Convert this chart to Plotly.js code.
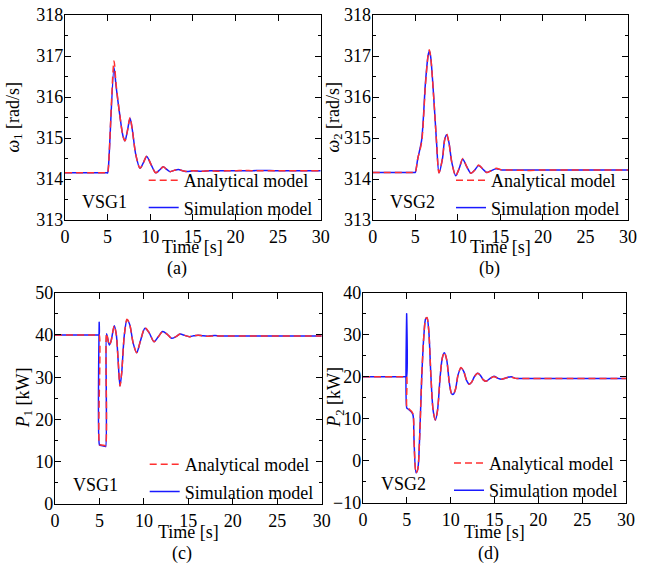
<!DOCTYPE html>
<html>
<head>
<meta charset="utf-8">
<script src="https://cdn.plot.ly/plotly-3.0.1.min.js"></script>
<style>html,body{margin:0;padding:0;background:#fff;}#chart{width:668px;height:570px;}</style>
</head>
<body>
<div id="chart"></div>
<script>
// ---- Panel (a): VSG1 angular frequency ----
const tA_ana = [0, 4.9, 5.0, 5.1, 5.75, 6.0, 6.4, 6.8, 7.04, 7.3, 7.63, 7.9, 8.3, 8.8, 9.2, 9.59, 10.1, 10.64, 11.1, 11.53, 11.9, 12.32, 12.8, 13.3, 13.8, 14.3, 15, 16, 17, 18, 19, 20, 21, 22, 23, 25, 30];
const wA_ana = [314.15, 314.15, 314.15, 314.3, 316.88, 316.3, 315.6, 315.05, 314.93, 315.15, 315.5, 315.2, 314.6, 314.26, 314.4, 314.56, 314.35, 314.15, 314.22, 314.3, 314.24, 314.18, 314.21, 314.24, 314.2, 314.18, 314.2, 314.19, 314.2, 314.19, 314.2, 314.2, 314.21, 314.2, 314.2, 314.2, 314.2];
const tA_sim = [0, 4.9, 5.0, 5.1, 5.75, 6.0, 6.4, 6.8, 7.04, 7.3, 7.63, 7.9, 8.3, 8.8, 9.2, 9.59, 10.1, 10.64, 11.1, 11.53, 11.9, 12.32, 12.8, 13.3, 13.8, 14.3, 15, 16, 17, 18, 19, 20, 21, 22, 23, 25, 30];
const wA_sim = [314.15, 314.15, 314.15, 314.3, 316.72, 316.25, 315.6, 315.05, 314.93, 315.15, 315.48, 315.2, 314.6, 314.26, 314.4, 314.55, 314.35, 314.15, 314.22, 314.3, 314.24, 314.18, 314.21, 314.23, 314.2, 314.18, 314.2, 314.19, 314.2, 314.2, 314.2, 314.2, 314.2, 314.2, 314.21, 314.2, 314.2];

// ---- Panel (b): VSG2 angular frequency ----
const tB_ana = [0, 4.9, 5.0, 5.3, 5.75, 6.2, 6.5, 6.65, 6.8, 7.2, 7.5, 7.79, 8.2, 8.45, 8.69, 8.95, 9.3, 9.75, 10.15, 10.58, 11.05, 11.55, 12.0, 12.45, 12.9, 13.4, 13.9, 14.5, 15.2, 16, 18, 20, 25, 30];
const wB_ana = [314.16, 314.16, 314.16, 314.5, 314.9, 316.3, 317.0, 317.15, 317.0, 315.9, 314.9, 314.15, 314.5, 314.95, 315.1, 314.9, 314.4, 314.08, 314.25, 314.5, 314.3, 314.14, 314.22, 314.34, 314.25, 314.16, 314.2, 314.26, 314.22, 314.22, 314.21, 314.22, 314.22, 314.22];
const tB_sim = [0, 4.9, 5.0, 5.3, 5.75, 6.2, 6.5, 6.65, 6.8, 7.2, 7.5, 7.79, 8.2, 8.45, 8.69, 8.95, 9.3, 9.75, 10.15, 10.58, 11.05, 11.55, 12.0, 12.45, 12.9, 13.4, 13.9, 14.5, 15.2, 16, 18, 20, 25, 30];
const wB_sim = [314.16, 314.16, 314.16, 314.5, 314.95, 316.35, 317.0, 317.12, 317.0, 315.9, 314.9, 314.15, 314.5, 314.95, 315.08, 314.9, 314.4, 314.08, 314.25, 314.48, 314.3, 314.14, 314.22, 314.33, 314.25, 314.16, 314.2, 314.25, 314.22, 314.22, 314.22, 314.22, 314.22, 314.22];

// ---- Panel (c): VSG1 active power ----
const tC_ana = [0, 4.9, 4.98, 5.0, 5.08, 5.62, 5.7, 5.8, 6.11, 6.3, 6.67, 6.9, 7.1, 7.31, 7.5, 7.8, 8.1, 8.4, 8.8, 9.19, 9.6, 10.12, 10.6, 11.14, 11.6, 12.11, 12.6, 13.12, 13.6, 14.06, 14.6, 15.1, 15.6, 16.1, 16.6, 17.2, 18, 18.5, 20, 30];
const pC_ana = [40, 40, 40, 14, 14, 13.82, 13.8, 40.3, 37.6, 38.5, 42.2, 40, 34, 27.9, 31, 40, 43.7, 42.5, 38, 35.8, 38.5, 41.7, 40.5, 38.4, 39.5, 40.8, 40.2, 39.2, 39.6, 40.2, 39.9, 39.6, 39.8, 39.95, 39.8, 39.7, 39.8, 39.75, 39.75, 39.75];
const tC_sim = [0, 4.88, 4.96, 4.97, 5.0, 5.08, 5.62, 5.7, 5.8, 6.11, 6.3, 6.67, 6.9, 7.1, 7.31, 7.5, 7.8, 8.1, 8.4, 8.8, 9.19, 9.6, 10.12, 10.6, 11.14, 11.6, 12.11, 12.6, 13.12, 13.6, 14.06, 14.6, 15.1, 15.6, 16.1, 16.6, 17.2, 18, 18.5, 20, 30];
const pC_sim = [40, 40, 40, 43, 14, 13.9, 13.65, 13.6, 40.3, 37.6, 38.5, 42.2, 40, 34, 27.9, 31, 40, 43.6, 42.5, 38, 35.8, 38.5, 41.6, 40.5, 38.4, 39.5, 40.8, 40.2, 39.2, 39.6, 40.2, 39.9, 39.6, 39.8, 39.95, 39.8, 39.7, 39.9, 39.75, 39.75, 39.75];

// ---- Panel (d): VSG2 active power ----
const tD_ana = [0, 4.9, 4.98, 5.0, 5.08, 5.67, 5.8, 6.05, 6.25, 6.45, 6.7, 6.95, 7.15, 7.3, 7.5, 7.75, 8.0, 8.25, 8.5, 8.8, 9.05, 9.28, 9.55, 9.85, 10.1, 10.3, 10.55, 10.85, 11.18, 11.5, 11.8, 12.13, 12.4, 12.7, 13.08, 13.4, 13.7, 14.03, 14.5, 14.94, 15.4, 15.8, 16.3, 16.9, 17.4, 18, 30];
const pD_ana = [20, 20, 20, 12.7, 12.6, 11.3, 6, -2.9, -2, 5, 20, 30, 33.8, 34.1, 31, 20, 12, 9.7, 12, 20, 24.5, 25.8, 24, 18.5, 16, 15.8, 17, 20.5, 22.2, 21.2, 19.2, 18.2, 18.7, 20, 20.8, 20.3, 19.3, 18.9, 19.6, 20.0, 19.6, 19.4, 19.7, 19.9, 19.6, 19.6, 19.6];
const tD_sim = [0, 4.89, 4.97, 4.98, 5.0, 5.08, 5.67, 5.8, 6.05, 6.25, 6.45, 6.7, 6.95, 7.15, 7.3, 7.5, 7.75, 8.0, 8.25, 8.5, 8.8, 9.05, 9.28, 9.55, 9.85, 10.1, 10.3, 10.55, 10.85, 11.18, 11.5, 11.8, 12.13, 12.4, 12.7, 13.08, 13.4, 13.7, 14.03, 14.5, 14.94, 15.4, 15.8, 16.3, 16.9, 17.4, 18, 30];
const pD_sim = [20, 20, 20, 35, 12.5, 12.4, 11.1, 6, -2.9, -2, 5, 20, 30, 33.8, 34.0, 31, 20, 12, 9.7, 12, 20, 24.5, 25.7, 24, 18.5, 16, 15.8, 17, 20.5, 22.1, 21.2, 19.2, 18.2, 18.7, 20, 20.8, 20.3, 19.3, 18.9, 19.6, 20.1, 19.6, 19.4, 19.7, 20.0, 19.6, 19.6, 19.6];

const xTicks = [0, 5, 10, 15, 20, 25, 30];
const seriesNames = ['Analytical model', 'Simulation model'];
const vsgLabels = ['VSG1', 'VSG2', 'VSG1', 'VSG2'];
const captions = ['(a)', '(b)', '(c)', '(d)'];
const xTitle = 'Time [s]';
const yTitles = ['<i>ω</i><sub>1</sub> [rad/s]', '<i>ω</i><sub>2</sub> [rad/s]', '<i>P</i><sub>1</sub> [kW]', '<i>P</i><sub>2</sub> [kW]'];

const FONT = '"Liberation Serif", "Times New Roman", serif';
const RED = '#ff3030';
const BLUE = '#1a1aff';

const panels = [
  {t1: tA_ana, v1: wA_ana, t2: tA_sim, v2: wA_sim, xa: 'x', ya: 'y', lg: 'legend'},
  {t1: tB_ana, v1: wB_ana, t2: tB_sim, v2: wB_sim, xa: 'x2', ya: 'y2', lg: 'legend2'},
  {t1: tC_ana, v1: pC_ana, t2: tC_sim, v2: pC_sim, xa: 'x3', ya: 'y3', lg: 'legend3'},
  {t1: tD_ana, v1: pD_ana, t2: tD_sim, v2: pD_sim, xa: 'x4', ya: 'y4', lg: 'legend4'}
];

const traces = [];
panels.forEach(p => {
  traces.push({x: p.t2, y: p.v2, xaxis: p.xa, yaxis: p.ya, legend: p.lg, type: 'scatter', mode: 'lines',
    name: seriesNames[1], legendrank: 2, legendgroup: p.lg + 's',
    line: {color: BLUE, width: 1.5, shape: 'spline', smoothing: 0.8}});
  traces.push({x: p.t1, y: p.v1, xaxis: p.xa, yaxis: p.ya, legend: p.lg, type: 'scatter', mode: 'lines',
    name: seriesNames[0], legendrank: 1, legendgroup: p.lg + 'a',
    line: {color: RED, width: 1.5, dash: '7px,4px', shape: 'spline', smoothing: 0.8}});
});

const W = 668, H = 570;
const box = [
  {x0: 65, x1: 320.7, y0: 15, y1: 220, yr: [313, 318], dt: 1, ytx: 14, xty: 247, cx: 177, cy: 268},
  {x0: 372.7, x1: 628, y0: 15, y1: 220, yr: [313, 318], dt: 1, ytx: 334, xty: 247, cx: 490, cy: 268},
  {x0: 55, x1: 321.7, y0: 292.7, y1: 504, yr: [0, 50], dt: 10, ytx: 24, xty: 532, cx: 182, cy: 553},
  {x0: 363, x1: 626, y0: 292.7, y1: 502.7, yr: [-10, 40], dt: 10, ytx: 336, xty: 532, cx: 488, cy: 553}
];

function axBase() {
  return {showgrid: false, zeroline: false, showline: true, linecolor: '#000', linewidth: 1.2,
    mirror: 'ticks', ticks: 'inside', ticklen: 6, tickwidth: 1, tickcolor: '#000',
    tickfont: {family: FONT, size: 18, color: '#000'}, fixedrange: true};
}

const layout = {
  width: W, height: H, margin: {l: 0, r: 0, t: 0, b: 0},
  paper_bgcolor: '#fff', plot_bgcolor: '#fff',
  font: {family: FONT, size: 18, color: '#000'},
  showlegend: true, annotations: []
};

function txt(text, x, y, angle) {
  return {text: text, xref: 'paper', yref: 'paper', x: x / W, y: 1 - y / H,
    xanchor: 'center', yanchor: 'middle', showarrow: false, textangle: angle || 0,
    font: {family: FONT, size: 18, color: '#000'}};
}

box.forEach((b, i) => {
  const sfx = i === 0 ? '' : String(i + 1);
  layout['xaxis' + sfx] = Object.assign(axBase(), {
    domain: [b.x0 / W, b.x1 / W], range: [0, 30], tickmode: 'array', tickvals: xTicks,
    anchor: 'y' + sfx
  });
  layout['yaxis' + sfx] = Object.assign(axBase(), {
    domain: [1 - b.y1 / H, 1 - b.y0 / H], range: b.yr, dtick: b.dt, tick0: b.yr[0],
    anchor: 'x' + sfx, ticklabelstandoff: -3,
    minor: {dtick: b.dt / 2, ticks: 'inside', ticklen: 3, tickcolor: '#000', showgrid: false}
  });
  const lgKey = i === 0 ? 'legend' : 'legend' + (i + 1);
  layout[lgKey] = {
    x: (b.x1 - 3) / W, xanchor: 'right', y: 1 - (b.y1 + 6) / H, yanchor: 'bottom',
    bgcolor: 'rgba(0,0,0,0)', borderwidth: 0, font: {family: FONT, size: 18, color: '#000'},
    traceorder: 'grouped', tracegroupgap: 1, itemclick: false, itemdoubleclick: false
  };
  layout.annotations.push(txt(xTitle, (b.x0 + b.x1) / 2, b.xty, 0));
  layout.annotations.push(txt(yTitles[i], b.ytx, (b.y0 + b.y1) / 2, -90));
  layout.annotations.push({text: vsgLabels[i], xref: 'x' + sfx + ' domain', yref: 'y' + sfx + ' domain',
    x: 0.06, y: 0.09, xanchor: 'left', yanchor: 'middle', showarrow: false,
    font: {family: FONT, size: 18, color: '#000'}});
  layout.annotations.push(txt(captions[i], b.cx, b.cy, 0));
});

Plotly.newPlot('chart', traces, layout, {displayModeBar: false, staticPlot: true});
</script>
</body>
</html>
